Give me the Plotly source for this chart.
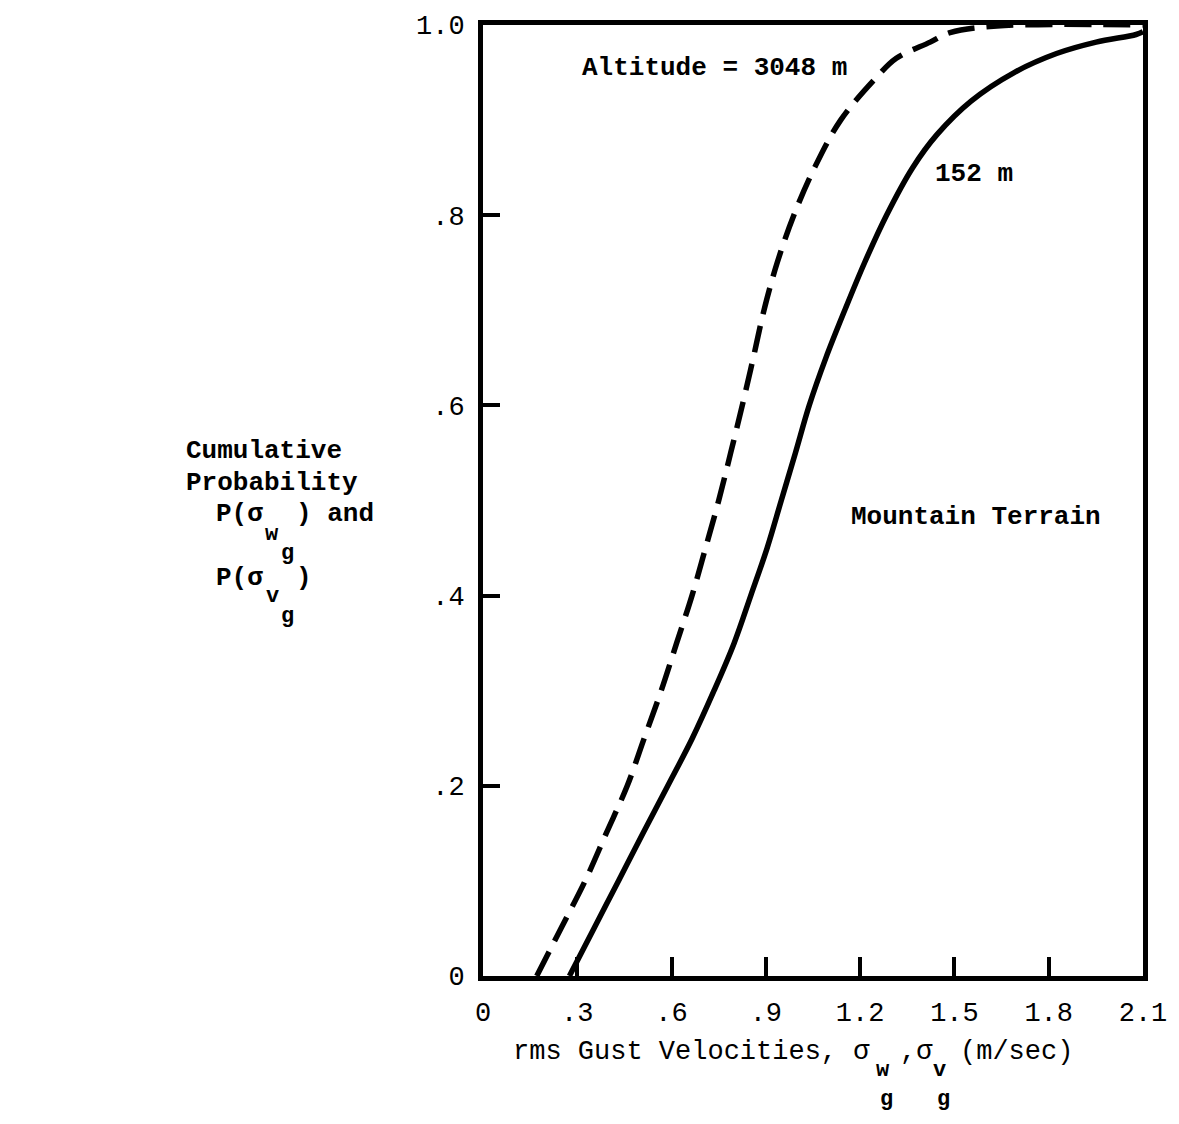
import plotly.graph_objects as go

# ---- data ----
alt3048_x = [0.171, 0.248, 0.325, 0.392, 0.459, 0.513, 0.567, 0.616, 0.665, 0.708,
             0.750, 0.788, 0.825, 0.860, 0.894, 0.936, 0.989, 1.055, 1.138, 1.252,
             1.315, 1.423, 1.486, 1.635, 2.100]
alt3048_y = [0.000, 0.050, 0.100, 0.150, 0.200, 0.250, 0.300, 0.350, 0.400, 0.450,
             0.500, 0.550, 0.600, 0.650, 0.700, 0.750, 0.800, 0.850, 0.900, 0.945,
             0.965, 0.982, 0.992, 0.999, 1.000]

alt152_x = [0.275, 0.353, 0.431, 0.509, 0.588, 0.666, 0.735, 0.799, 0.852, 0.904,
            0.949, 0.994, 1.038, 1.091, 1.151, 1.214, 1.284, 1.367, 1.445, 1.553,
            1.690, 1.825, 1.951, 2.078, 2.100]
alt152_y = [0.000, 0.050, 0.100, 0.150, 0.200, 0.250, 0.300, 0.350, 0.400, 0.450,
            0.500, 0.550, 0.600, 0.650, 0.700, 0.750, 0.800, 0.850, 0.885, 0.920,
            0.950, 0.970, 0.982, 0.990, 0.993]

x_ticks = [0, 0.3, 0.6, 0.9, 1.2, 1.5, 1.8, 2.1]
x_tick_text = ["0", ".3", ".6", ".9", "1.2", "1.5", "1.8", "2.1"]
y_ticks = [0, 0.2, 0.4, 0.6, 0.8, 1.0]
y_tick_text = ["0", ".2", ".4", ".6", ".8", "1.0"]

FONT = "Liberation Mono, DejaVu Sans Mono, monospace"

W, H = 1179, 1124
L, R, T, B = 483, 1147, 20, 976


def px(xp, yp):
    return (xp - L) / (R - L), (B - yp) / (B - T)


fig = go.Figure()
fig.add_trace(go.Scatter(x=alt3048_x, y=alt3048_y, mode="lines",
                         line=dict(color="black", width=5.5, dash="27px,12px",
                                   shape="spline", smoothing=1.0),
                         showlegend=False, hoverinfo="skip"))
fig.add_trace(go.Scatter(x=alt152_x, y=alt152_y, mode="lines",
                         line=dict(color="black", width=5.5,
                                   shape="spline", smoothing=1.0),
                         showlegend=False, hoverinfo="skip"))

annotations = []


def txt(text, xp, yp, anchor="center", size=26, bold=False):
    x, y = px(xp, yp)
    if bold:
        text = "<b>" + text + "</b>"
    annotations.append(dict(text=text, x=x, y=y, xref="paper", yref="paper",
                            xanchor=anchor, yanchor="middle", showarrow=False,
                            borderpad=0,
                            font=dict(family=FONT, size=size, color="black")))


# in-plot labels
txt("Altitude = 3048 m", 582, 63, anchor="left", bold=True)
txt("152 m", 937, 170, anchor="left", bold=True)
txt("Mountain Terrain", 852, 515, anchor="left", bold=True)

# y-axis title block
txt("Cumulative", 183, 448, anchor="left", bold=True)
txt("Probability", 183, 480, anchor="left", bold=True)
txt("P(σ", 213, 512, anchor="left", bold=True)
txt(") and", 294, 512, anchor="left", bold=True)
txt("w", 271, 532, size=22, bold=True)
txt("g", 286, 551, size=22, bold=True)
txt("P(σ", 213, 576, anchor="left", bold=True)
txt(")", 294, 576, anchor="left", bold=True)
txt("v", 271, 595, size=22, bold=True)
txt("g", 286, 615, size=22, bold=True)

# x-axis title
ty = 1052
txt("rms Gust Velocities, σ", 512, ty, anchor="left", size=27)
txt("w", 885, ty + 19, size=22, bold=True)
txt(",σ", 902, ty, anchor="left", size=27)
txt("v", 942, ty + 19, size=22, bold=True)
txt("g", 889, ty + 48, size=22, bold=True)
txt("g", 946, ty + 48, size=22, bold=True)
txt("(m/sec)", 962, ty, anchor="left", size=27)

fig.update_layout(
    width=W, height=H,
    margin=dict(l=L, r=W - R, t=T, b=H - B, pad=0),
    paper_bgcolor="white", plot_bgcolor="white",
    annotations=annotations,
    font=dict(family=FONT, color="black"),
)
fig.update_xaxes(range=[0, 2.1], tickvals=x_ticks, ticktext=x_tick_text,
                 showgrid=False, zeroline=False, showline=True, mirror=True,
                 linecolor="black", linewidth=5, ticks="inside", ticklen=19,
                 tickwidth=4, tickcolor="black", ticklabelstandoff=8,
                 tickfont=dict(family=FONT, size=27, color="black"))
fig.update_yaxes(range=[0, 1.0], tickvals=y_ticks, ticktext=y_tick_text,
                 showgrid=False, zeroline=False, showline=True, mirror=True,
                 linecolor="black", linewidth=5, ticks="inside", ticklen=17,
                 tickwidth=4, tickcolor="black", ticklabelstandoff=8,
                 tickfont=dict(family=FONT, size=27, color="black"))

fig.write_html("out.html")
